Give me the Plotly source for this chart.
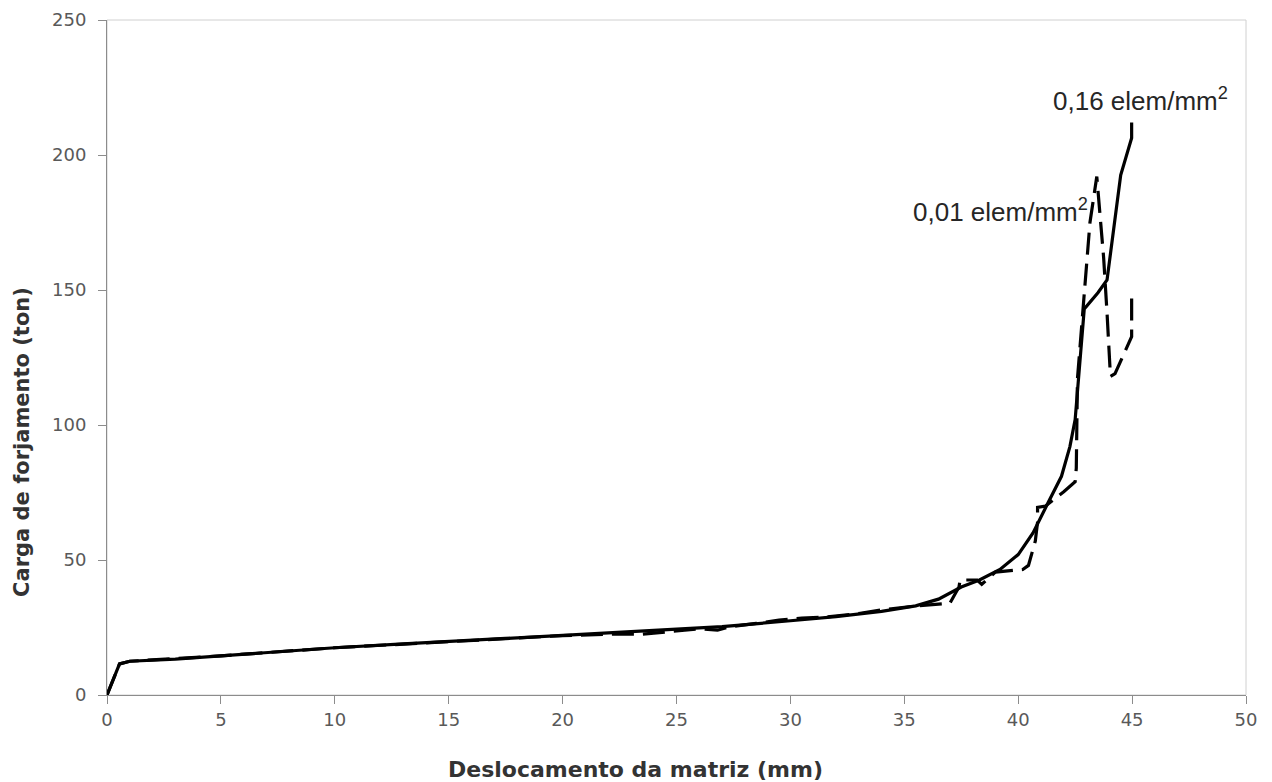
import plotly.graph_objects as go

# 0,16 elem/mm2 (solid)
x_fine = [0, 0.55, 1.0, 3, 5, 8, 10, 13, 15, 18, 20, 22, 25, 27, 30, 32, 34, 35.5, 36.5, 37.5,
          38.3, 39.2, 40.0, 40.65, 41.3, 41.9, 42.27, 42.5, 42.9, 43.5, 43.9, 44.5, 44.98, 44.98]
y_fine = [0, 11.5, 12.5, 13.3, 14.5, 16.3, 17.5, 18.9, 19.8, 21.1, 22.0, 23.0, 24.4, 25.3, 27.5,
          29.0, 31.0, 33.0, 35.5, 40.0, 42.6, 46.5, 52.0, 60.0, 71.0, 81.0, 92.0, 102.0, 143.0,
          149.0, 153.7, 192.6, 206.3, 212.0]

# 0,01 elem/mm2 (dashed)
x_coarse = [0, 0.55, 1.0, 5, 10, 15, 20, 22, 23.5, 24.5, 26, 26.8, 27.3, 28.5, 29.5, 30.5, 31.5,
            33, 34, 35.5, 37.0, 37.4, 37.45, 38.2, 38.4, 39.0, 40.2, 40.45, 40.75, 40.85, 40.85,
            41.2, 42.0, 42.5, 42.55, 42.6, 42.9, 43.15, 43.45, 43.6, 43.75, 43.9, 44.05, 44.25,
            44.98, 44.98]
y_coarse = [0, 11.5, 12.5, 14.5, 17.5, 19.8, 22.0, 22.5, 22.5, 23.3, 24.5, 24.0, 25.2, 26.5,
            27.7, 28.5, 28.8, 30.2, 31.5, 33.0, 34.0, 40.0, 42.6, 42.6, 41.0, 45.5, 46.5, 48.0,
            57.0, 64.0, 69.5, 70.0, 75.3, 79.0, 84.0, 117.0, 150.0, 175.0, 192.0, 178.5, 162.0,
            141.5, 118.0, 119.0, 132.7, 147.5]

x_ticks = [0, 5, 10, 15, 20, 25, 30, 35, 40, 45, 50]
y_ticks = [0, 50, 100, 150, 200, 250]

fig = go.Figure()
fig.add_trace(go.Scatter(x=x_coarse, y=y_coarse, mode="lines",
                         line=dict(color="black", width=3.2, dash="22px,9px"),
                         showlegend=False, hoverinfo="skip"))
fig.add_trace(go.Scatter(x=x_fine, y=y_fine, mode="lines",
                         line=dict(color="black", width=3.2),
                         showlegend=False, hoverinfo="skip"))

fig.add_annotation(x=49.3, y=220.4, xref="x", yref="y", text="0,16 elem/mm<sup>2</sup>",
                   showarrow=False, xanchor="right", yanchor="middle",
                   font=dict(family="Liberation Sans", size=26, color="#262626"))
fig.add_annotation(x=43.15, y=179.6, xref="x", yref="y", text="0,01 elem/mm<sup>2</sup>",
                   showarrow=False, xanchor="right", yanchor="middle",
                   font=dict(family="Liberation Sans", size=26, color="#262626"))

# axis titles
fig.add_annotation(x=0.4636, y=-0.111, xref="paper", yref="paper",
                   text="<b>Deslocamento da matriz (mm)</b>",
                   showarrow=False, xanchor="center", yanchor="middle",
                   font=dict(family="DejaVu Sans", size=22, color="#333333"))
fig.add_annotation(x=-0.0746, y=0.375, xref="paper", yref="paper",
                   text="<b>Carga de forjamento (ton)</b>",
                   showarrow=False, xanchor="center", yanchor="middle", textangle=-90,
                   font=dict(family="DejaVu Sans", size=21, color="#333333"))

fig.add_shape(type="rect", xref="paper", yref="paper", x0=0, y0=0, x1=1, y1=1,
              line=dict(color="#D0D0D0", width=1), layer="below")

fig.update_xaxes(range=[0, 50], tickvals=x_ticks, ticktext=[str(v) for v in x_ticks],
                 showgrid=False, zeroline=False, showline=True, linecolor="#8C8C8C", linewidth=1,
                 ticks="outside", ticklen=8, tickcolor="#8C8C8C",
                 tickfont=dict(family="DejaVu Sans", size=18, color="#595959"))
fig.update_yaxes(range=[0, 250], tickvals=y_ticks, ticktext=[str(v) for v in y_ticks],
                 showgrid=False, zeroline=False, showline=True, linecolor="#8C8C8C", linewidth=1,
                 ticks="outside", ticklen=8, tickcolor="#8C8C8C", ticklabelstandoff=8,
                 tickfont=dict(family="DejaVu Sans", size=18, color="#595959"))

fig.update_layout(width=1272, height=782, margin=dict(l=107, r=26, t=20, b=87, autoexpand=False),
                  paper_bgcolor="white", plot_bgcolor="white")

fig.write_html("out.html")
